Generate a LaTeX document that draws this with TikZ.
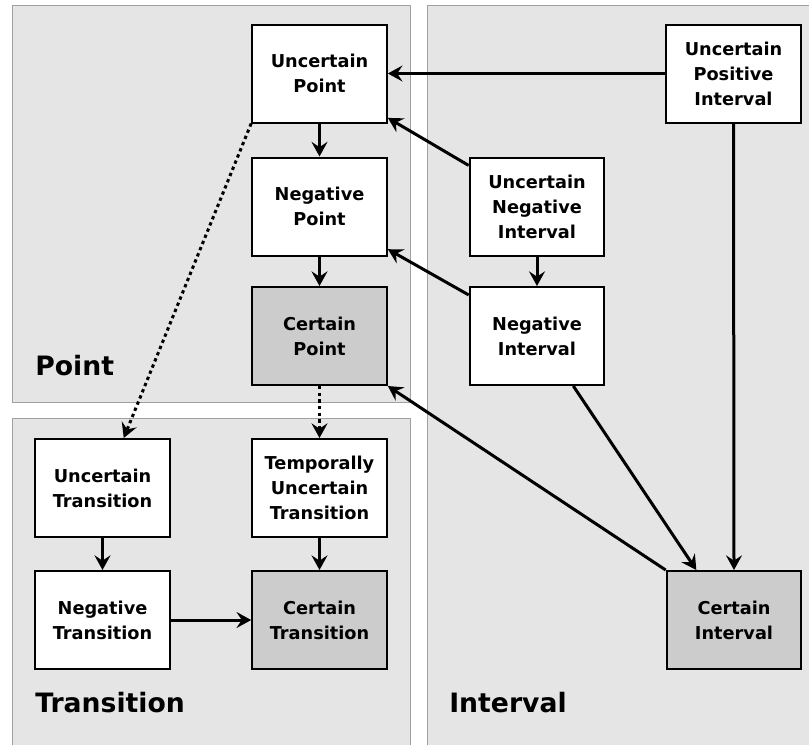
\documentclass[tikz,border=0pt]{standalone}
\usepackage{fontspec}
\setmainfont{DejaVu Sans}
\usetikzlibrary{arrows.meta, calc, positioning}
\definecolor{regionGray}{HTML}{E5E5E5}
\definecolor{regionLine}{HTML}{A0A0A0}
\definecolor{certainGray}{HTML}{CCCCCC}
\tikzstyle{region}=[draw=regionLine, fill=regionGray, line width=0.75pt]
\tikzstyle{concept}=[draw, rectangle, line width=1.5pt, fill=white, minimum width=101pt, minimum height=73.5pt, inner sep=0pt, align=center, font=\fontsize{13.3}{18.75}\selectfont\bfseries]
\tikzstyle{certain}=[fill=certainGray]
\tikzstyle{groupLabel}=[anchor=base west, inner sep=0pt, font=\fontsize{20}{24}\selectfont\bfseries]
\tikzstyle{refines}=[line width=2.25pt, -{Stealth[length=11pt, width=12pt, inset=4pt]}]
\tikzstyle{derives}=[refines, dash pattern=on 2.5pt off 2.5pt]

\begin{document}
\begin{tikzpicture}[x=0.75pt, y=-0.75pt]
    \useasboundingbox (0, 0) rectangle (809, 744);
    \fill[white] (0, 0) rectangle (809, 744);

    % regions
    \draw[region] (12, 5) rectangle (410, 402);
    \draw[region] (12, 418) rectangle (410, 760);
    \draw[region] (427, 5) rectangle (830, 760);
    \node (pointLabel)[groupLabel] at (35, 375) {Point};
    \node (transitionLabel)[groupLabel] at (35, 712) {Transition};
    \node (intervalLabel)[groupLabel] at (449, 712) {Interval};

    % point
    \node (up)[concept] at (319.5, 73.5) {Uncertain\\Point};
    \node (np)[concept] at (319.5, 206.5) {Negative\\Point};
    \node (cp)[concept, certain] at (319.5, 336) {Certain\\Point};

    % interval
    \node (upi)[concept] at (733.5, 73.5) {Uncertain\\Positive\\Interval};
    \node (uni)[concept] at (537, 206.5) {Uncertain\\Negative\\Interval};
    \node (ni)[concept] at (537, 336) {Negative\\Interval};
    \node (ci)[concept, certain] at (734, 620) {Certain\\Interval};

    % transition
    \node (ut)[concept] at (102.5, 488) {Uncertain\\Transition};
    \node (tut)[concept] at (319.5, 488) {Temporally\\Uncertain\\Transition};
    \node (nt)[concept] at (102.5, 620) {Negative\\Transition};
    \node (ct)[concept, certain] at (319.5, 620) {Certain\\Transition};

    \draw[refines] (up) -- (np);
    \draw[refines] (np) -- (cp);
    \draw[refines] (upi.west) -- (up.east);
    \draw[refines] (uni.149) -- (up.-33);
    \draw[refines] (uni) -- (ni);
    \draw[refines] (ni.149) -- (np.-32);
    \draw[refines] (upi.south) -- (ci.north);
    \draw[refines] (ni.-54) -- (ci.127);
    \draw[refines] (ci.north west) -- (cp.south east);

    \draw[derives] (up.south west) -- (ut.67);
    \draw[derives] (cp) -- (tut);

    \draw[refines] (ut) -- (nt);
    \draw[refines] (tut) -- (ct);
    \draw[refines] (nt) -- (ct);
\end{tikzpicture}
\end{document}
